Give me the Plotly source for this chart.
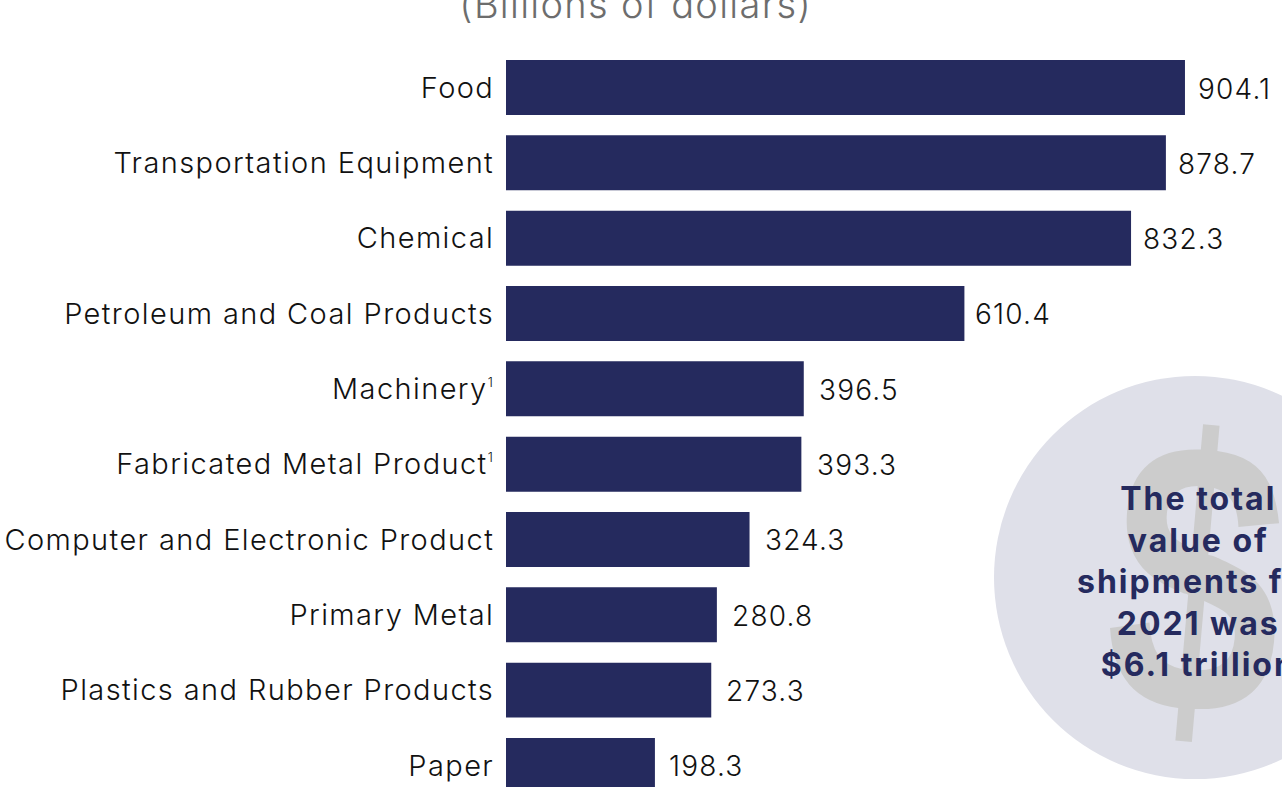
import plotly.graph_objects as go

categories = ["Food", "Transportation Equipment", "Chemical", "Petroleum and Coal Products",
              "Machinery<sup><span style='font-size:13px'>1</span></sup>",
              "Fabricated Metal Product<sup><span style='font-size:13px'>1</span></sup>",
              "Computer and Electronic Product", "Primary Metal",
              "Plastics and Rubber Products", "Paper"]
values = [904.1, 878.7, 832.3, 610.4, 396.5, 393.3, 324.3, 280.8, 273.3, 198.3]
label_gaps = [13, 12, 12, 11, 15, 16, 15, 15, 15, 14]
subtitle = "(Billions of dollars)"
callout = "The total<br>value of<br>shipments for<br>2021 was<br>$6.1 trillion"

W, H = 1282, 787
L = 506
FONT = "Inter, Arial, sans-serif"
NAVY = "#252A5E"
INK = "#111111"

def px(x):
    return (x - L) / (W - L)

def py(y):
    return 1 - y / H

fig = go.Figure(go.Bar(y=categories, x=values, orientation="h", marker=dict(color=NAVY, line_width=0),
                       hoverinfo="skip", showlegend=False))

annotations = [dict(x=v, y=c, xref="x", yref="y", text=f"{v:.1f}", showarrow=False, xanchor="left",
                    xshift=g + 2, yshift=-1, font=dict(family=FONT, size=28, color=INK, weight=300), borderpad=0)
               for v, c, g in zip(values, categories, label_gaps)]
annotations.append(dict(x=px(635), y=py(20), xref="paper", yref="paper", text=subtitle, showarrow=False,
                        xanchor="center", yanchor="bottom", yshift=-9,
                        font=dict(family=FONT, size=38, color="#6D6D6D", weight=300)))
annotations.append(dict(x=px(1197), y=py(578), xref="paper", yref="paper", text="$", showarrow=False,
                        xanchor="center", yanchor="middle", textangle=5,
                        font=dict(family="Liberation Sans", size=389, color="#CCCCCC", weight=700)))
annotations.append(dict(x=px(1198), y=py(581), xref="paper", yref="paper", text=callout, showarrow=False,
                        xanchor="center", yanchor="middle", align="center",
                        font=dict(family=FONT, size=32, color=NAVY, weight=700)))

fig.update_layout(
    width=W, height=H, margin=dict(l=L, r=0, t=0, b=0, pad=0),
    paper_bgcolor="white", plot_bgcolor="white", bargap=0.27,
    font=dict(family=FONT, size=29, color=INK),
    xaxis=dict(range=[0, 1033.3], visible=False, fixedrange=True),
    yaxis=dict(type="category", categoryorder="array", categoryarray=categories, range=[9.286, -1.1616],
               showgrid=False, zeroline=False, showline=False, ticks="outside", ticklen=5,
               tickcolor="rgba(0,0,0,0)", tickfont=dict(family=FONT, size=29, color=INK, weight=300),
               automargin=False, fixedrange=True),
    annotations=annotations,
    shapes=[dict(type="circle", xref="paper", yref="paper", x0=px(994), x1=px(1396), y0=py(779), y1=py(376),
                 fillcolor="#DFE0E9", line_width=0, layer="below")],
)

post = """
document.body.style.margin='0';document.body.style.overflow='hidden';
var st=document.createElement('style');
st.textContent='.ytick text{letter-spacing:1.4px}';
document.head.appendChild(st);
document.querySelectorAll('.annotation-text').forEach(function(t){
  var s=t.textContent;
  if(s.indexOf('Billions')>=0){t.style.letterSpacing='1.3px';}
  else if(s.indexOf('total')>=0){t.style.letterSpacing='2px';}
  else if(s==='$'){t.style.transformBox='fill-box';t.style.transformOrigin='center';t.style.transform='scaleX(0.8)';}
  else {t.style.letterSpacing='1.2px';}
});
"""
fig.write_html("out.html", config=dict(displayModeBar=False), post_script=post)
